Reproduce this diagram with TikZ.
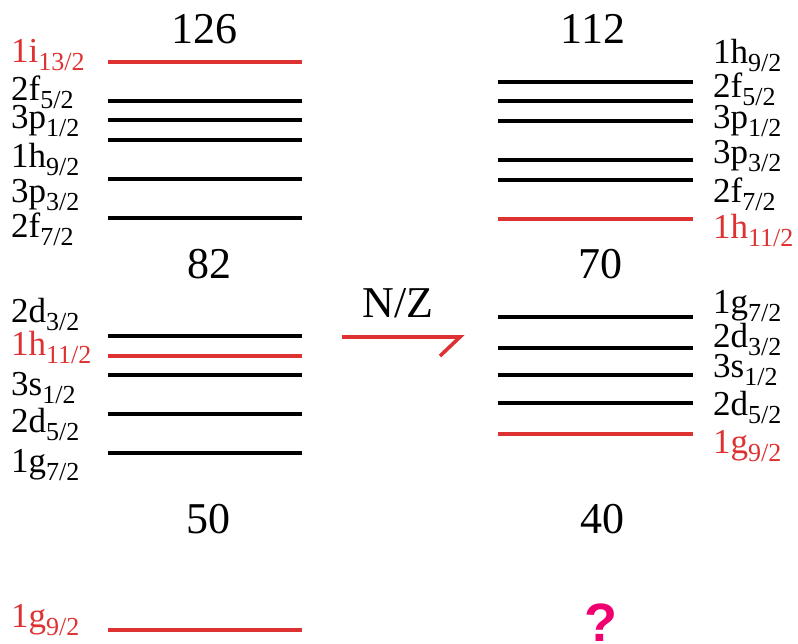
\documentclass[tikz,border=0pt]{standalone}
\usepackage{fontspec}
\setmainfont{Liberation Serif}
\newfontfamily\qmarkfont{Liberation Sans}
\definecolor{shellred}{RGB}{222,50,50}
\definecolor{qpink}{RGB}{240,0,110}
\newcommand{\orb}[2]{#1\raisebox{-8.5pt}{\fontsize{26}{26}\selectfont #2}}

\begin{document}
\begin{tikzpicture}[x=1pt,y=-1pt,
    level/.style={line width=3.8pt},
    lab/.style={anchor=base west,inner sep=0pt,font=\fontsize{35}{35}\selectfont},
    magic/.style={anchor=base,inner sep=0pt,font=\fontsize{44}{44}\selectfont}]
      \useasboundingbox (0,0) rectangle (798,643);
      % Coordinates
      \coordinate (arrA) at (342,337);
      \coordinate (arrB) at (460,337);
      \coordinate (arrC) at (440,356);
      % Levels, left
      \foreach \y in {101,120,140,179,218,336,375,414,453} {
          \draw[level] (108,\y) -- (302,\y);
        }
      \foreach \y in {62,356,630} {
          \draw[level,shellred] (108,\y) -- (302,\y);
        }
      % Levels, right
      \foreach \y in {82,101,121,160,180,317,348,375,403} {
          \draw[level] (498,\y) -- (693,\y);
        }
      \foreach \y in {219,434} {
          \draw[level,shellred] (498,\y) -- (693,\y);
        }
      % Magic numbers
      \node[magic] (n126) at (204,43) {126};
      \node[magic] (n82) at (209,278) {82};
      \node[magic] (n50) at (208,533) {50};
      \node[magic] (n112) at (593,43) {112};
      \node[magic] (n70) at (600,278) {70};
      \node[magic] (n40) at (602,533) {40};
      % Labels, left
      \node[lab,shellred] (la1) at (11,62) {\orb{1i}{13/2}};
      \node[lab] (la2) at (11,100) {\orb{2f}{5/2}};
      \node[lab] (la3) at (11,128) {\orb{3p}{1/2}};
      \node[lab] (la4) at (11,167) {\orb{1h}{9/2}};
      \node[lab] (la5) at (11,202) {\orb{3p}{3/2}};
      \node[lab] (la6) at (11,237) {\orb{2f}{7/2}};
      \node[lab] (lb1) at (11,322) {\orb{2d}{3/2}};
      \node[lab,shellred] (lb2) at (11,355) {\orb{1h}{11/2}};
      \node[lab] (lb3) at (11,395) {\orb{3s}{1/2}};
      \node[lab] (lb4) at (11,432) {\orb{2d}{5/2}};
      \node[lab] (lb5) at (11,472) {\orb{1g}{7/2}};
      \node[lab,shellred] (lc1) at (11,627) {\orb{1g}{9/2}};
      % Labels, right
      \node[lab] (ra1) at (713,63) {\orb{1h}{9/2}};
      \node[lab] (ra2) at (713,97) {\orb{2f}{5/2}};
      \node[lab] (ra3) at (713,128) {\orb{3p}{1/2}};
      \node[lab] (ra4) at (713,163) {\orb{3p}{3/2}};
      \node[lab] (ra5) at (713,202) {\orb{2f}{7/2}};
      \node[lab,shellred] (ra6) at (713,238) {\orb{1h}{11/2}};
      \node[lab] (rb1) at (713,313) {\orb{1g}{7/2}};
      \node[lab] (rb2) at (713,347) {\orb{2d}{3/2}};
      \node[lab] (rb3) at (713,377) {\orb{3s}{1/2}};
      \node[lab] (rb4) at (713,415) {\orb{2d}{5/2}};
      \node[lab,shellred] (rb5) at (713,453) {\orb{1g}{9/2}};
      % N/Z arrow
      \node[magic] (nz) at (398,317) {N/Z};
      \draw[line width=3.6pt,shellred] (arrA) -- (arrB) -- (arrC);
      \node[anchor=base,inner sep=0pt,qpink,font=\qmarkfont\bfseries\fontsize{54}{54}\selectfont] (qm) at (601,641) {?};
\end{tikzpicture}
\end{document}
